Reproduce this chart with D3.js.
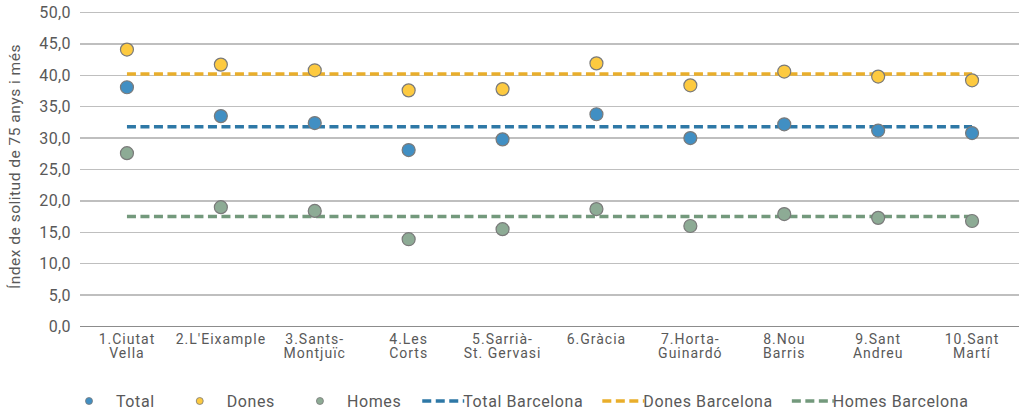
<!DOCTYPE html>
<html lang="ca">
<head>
<meta charset="UTF-8">
<script src="https://cdn.jsdelivr.net/npm/d3@7"></script>
<style>
body { margin: 0; background: #fff; font-family: Roboto, "Noto Sans", sans-serif; }
.grid line { stroke: #bfbfbf; stroke-width: 1.3px; shape-rendering: crispEdges; }
.tick-label { fill: #595959; font-size: 16px; letter-spacing: 0.4px; }
.axis-title { fill: #595959; font-size: 15.5px; letter-spacing: 0.5px; }
.cat-label { fill: #595959; font-size: 14px; letter-spacing: 1px; }
.legend text { fill: #595959; font-size: 16px; letter-spacing: 0.6px; }
</style>
</head>
<body>
<div id="chart"></div>
<script>
const categories = [
    ["1.Ciutat", "Vella"], ["2.L'Eixample"], ["3.Sants-", "Montjuïc"], ["4.Les", "Corts"],
    ["5.Sarrià-", "St. Gervasi"], ["6.Gràcia"], ["7.Horta-", "Guinardó"], ["8.Nou", "Barris"],
    ["9.Sant", "Andreu"], ["10.Sant", "Martí"]
];
const total = [38.1, 33.5, 32.4, 28.1, 29.8, 33.8, 30.0, 32.2, 31.2, 30.8];
const dones = [44.1, 41.7, 40.8, 37.6, 37.8, 41.9, 38.4, 40.6, 39.8, 39.2];
const homes = [27.6, 19.0, 18.4, 13.9, 15.5, 18.7, 16.0, 17.9, 17.3, 16.8];
const totalBarcelona = 31.8;
const donesBarcelona = 40.2;
const homesBarcelona = 17.5;
const yTicks = [0, 5, 10, 15, 20, 25, 30, 35, 40, 45, 50];

const width = 1020, height = 413;
const margin = {top: 13, right: 1, bottom: 86, left: 80};

const svg = d3.select("#chart").append("svg")
    .attr("width", width)
    .attr("height", height);

const x = d3.scaleBand()
    .domain(d3.range(categories.length))
    .range([margin.left, width - margin.right]);

const y = d3.scaleLinear()
    .domain([0, 50])
    .range([height - margin.bottom - 0.5, margin.top - 0.5]);

const cx = i => x(i) + x.bandwidth() / 2;

// gridlines
svg.append("g").attr("class", "grid")
    .selectAll("line")
    .data(yTicks)
    .enter().append("line")
    .attr("x1", margin.left)
    .attr("x2", width - margin.right)
    .attr("y1", d => y(d))
    .attr("y2", d => y(d))
    .style("stroke", d => d === 0 ? "#8c8c8c" : null);

svg.append("g")
    .selectAll("text")
    .data(yTicks)
    .enter().append("text")
    .attr("class", "tick-label")
    .attr("x", 71)
    .attr("y", d => y(d) + 5.5)
    .attr("text-anchor", "end")
    .text(d => d.toFixed(1).replace(".", ","));

svg.append("text")
    .attr("class", "axis-title")
    .attr("transform", `translate(20,${(y(0) + y(50)) / 2 - 3}) rotate(-90)`)
    .attr("text-anchor", "middle")
    .text("Índex de solitud de 75 anys i més");

// category labels
const cat = svg.append("g").selectAll("text")
    .data(categories)
    .enter().append("text")
    .attr("class", "cat-label")
    .attr("text-anchor", "middle")
    .attr("x", (d, i) => cx(i))
    .attr("y", 344);
cat.selectAll("tspan")
    .data(d => d)
    .enter().append("tspan")
    .attr("x", function () { return d3.select(this.parentNode).attr("x"); })
    .attr("dy", (d, i) => i === 0 ? 0 : 14)
    .text(d => d);

// reference lines
const refs = [
    {name: "Total Barcelona", value: totalBarcelona, color: "#2e78a6"},
    {name: "Dones Barcelona", value: donesBarcelona, color: "#e9ae2b"},
    {name: "Homes Barcelona", value: homesBarcelona, color: "#73997c"}
];
const series = [
    {name: "Total", values: total, color: "#418fc3"},
    {name: "Dones", values: dones, color: "#fdca40"},
    {name: "Homes", values: homes, color: "#8dab95"}
];

svg.append("g").selectAll("line")
    .data(refs)
    .enter().append("line")
    .attr("x1", cx(0))
    .attr("x2", cx(categories.length - 1))
    .attr("y1", d => y(d.value))
    .attr("y2", d => y(d.value))
    .attr("stroke", d => d.color)
    .attr("stroke-width", 3.5)
    .attr("stroke-dasharray", "9,4.5");

// points
series.forEach(s => {
    svg.append("g").selectAll("circle")
        .data(s.values)
        .enter().append("circle")
        .attr("cx", (d, i) => cx(i))
        .attr("cy", d => y(d))
        .attr("r", 6.5)
        .attr("fill", s.color)
        .attr("stroke", "#7a7a7a")
        .attr("stroke-width", 1.2);
});

// legend
const legend = svg.append("g").attr("class", "legend");
let lx = 89;
const ly = 401;
series.forEach(s => {
    legend.append("circle")
        .attr("cx", lx).attr("cy", ly).attr("r", 3.5)
        .attr("fill", s.color).attr("stroke", "#7a7a7a").attr("stroke-width", 0.8);
    const t = legend.append("text").attr("x", lx + 27).attr("y", ly + 5.5).text(s.name);
    lx += 27 + t.node().getBBox().width + 45;
});
lx -= 24;
refs.forEach(r => {
    legend.append("line")
        .attr("x1", lx).attr("x2", lx + 42)
        .attr("y1", ly).attr("y2", ly)
        .attr("stroke", r.color).attr("stroke-width", 3.5)
        .attr("stroke-dasharray", "9,4.5");
    const t = legend.append("text").attr("x", lx + 41).attr("y", ly + 5.5).text(r.name);
    lx += 41 + t.node().getBBox().width + 19;
});
</script>
</body>
</html>
